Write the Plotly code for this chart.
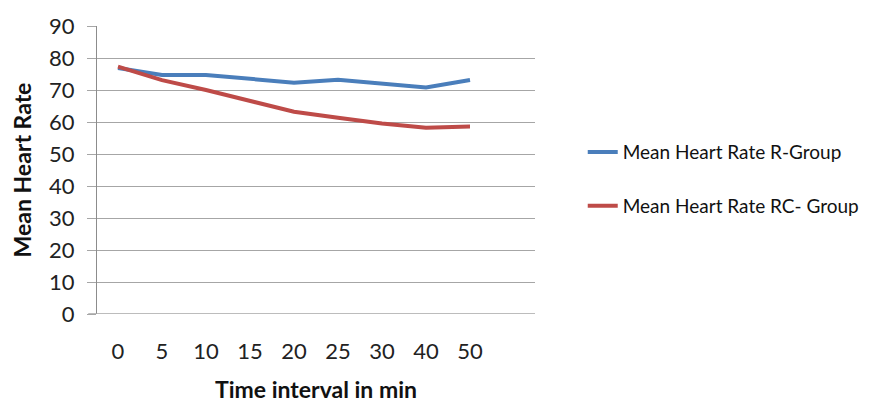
import plotly.graph_objects as go

categories = ["0", "5", "10", "15", "20", "25", "30", "40", "50"]
r_group = [76.9, 74.7, 74.7, 73.5, 72.3, 73.2, 72.0, 70.8, 73.1]
rc_group = [77.3, 73.1, 70.0, 66.6, 63.2, 61.3, 59.5, 58.2, 58.6]
y_ticks = [0, 10, 20, 30, 40, 50, 60, 70, 80, 90]

FONT = "Lato, 'Open Sans', sans-serif"

fig = go.Figure()
fig.add_trace(go.Scatter(x=categories, y=r_group, mode="lines", name="Mean Heart Rate R-Group",
                         line=dict(color="#4A7EBB", width=4), legendgroup="a"))
fig.add_trace(go.Scatter(x=categories, y=rc_group, mode="lines", name="Mean Heart Rate RC- Group",
                         line=dict(color="#BE4B48", width=4), legendgroup="b"))

fig.update_layout(
    width=866, height=395,
    margin=dict(l=89, r=339, t=18, b=89, autoexpand=False),
    paper_bgcolor="white", plot_bgcolor="white",
    font=dict(family=FONT, color="#222222"),
    xaxis=dict(type="category", range=[-0.477, 9.477],
               showgrid=False, zeroline=False, showline=False, ticks="", automargin=False,
               ticklabelstandoff=22, tickfont=dict(size=22, family=FONT, color="#222222"),
               title=dict(text="<b>Time interval in min</b>", standoff=22,
                          font=dict(size=23, family=FONT, color="#111111"))),
    yaxis=dict(range=[0, 90], tickvals=y_ticks, showgrid=True, gridcolor="#A6A6A6", gridwidth=1.3,
               zeroline=False, showline=True, linecolor="#8C8C8C", linewidth=1.3,
               ticks="outside", ticklen=9, tickcolor="#A6A6A6", tickwidth=1.3, automargin=False,
               ticklabelstandoff=8, tickfont=dict(size=22, family=FONT, color="#222222"),
               title=dict(text="<b>Mean Heart Rate</b>", standoff=16,
                          font=dict(size=23, family=FONT, color="#111111"))),
    legend=dict(x=1.109, y=0.628, xanchor="left", yanchor="top",
                font=dict(size=19, family=FONT, color="#111111"),
                traceorder="grouped", tracegroupgap=26, bgcolor="rgba(0,0,0,0)"),
    showlegend=True,
)
# bottom axis line extending left like the reference
fig.add_shape(type="line", xref="paper", yref="y", x0=-0.02, x1=1, y0=0, y1=0,
              line=dict(color="#A6A6A6", width=1.3))
fig.write_html("out.html")
